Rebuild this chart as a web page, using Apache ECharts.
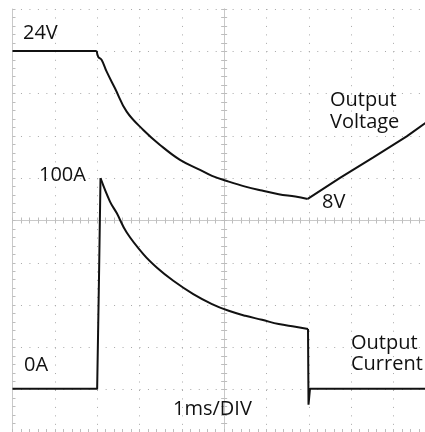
<!DOCTYPE html>
<html>
<head>
<meta charset="utf-8">
<script src="https://cdn.jsdelivr.net/npm/echarts@6/dist/echarts.min.js"></script>
<style>
  html, body { margin: 0; padding: 0; background: #ffffff; }
  #chart { width: 425px; height: 432px; }
</style>
</head>
<body>
<div id="chart"></div>
<script>
// Time (ms, 1 ms per division) and voltage (V) of the output voltage trace
const voltageTime = [0, 1.989, 2.027, 2.107, 2.225, 2.421, 2.698, 3.090, 3.485, 3.957, 4.430, 4.713,
  5.108, 5.500, 5.894, 6.289, 6.681, 6.974, 7.737, 8.524, 9.313, 9.745, 9.8];
const voltageValues = [24, 24, 23.35, 23.03, 21.76, 19.97, 17.44, 15.46, 13.84, 12.22, 11.14, 10.49,
  9.87, 9.33, 8.90, 8.51, 8.25, 8.0, 10.27, 12.49, 14.76, 16.19, 16.4];

// Time (ms) and current (A) of the output current trace
const currentTime = [0, 2.0, 2.013, 2.043, 2.079, 2.303, 2.462, 2.698, 3.090, 3.407, 3.799, 4.271,
  4.713, 5.108, 5.500, 5.894, 6.289, 6.681, 6.981, 6.993, 7.028, 9.8];
const currentValues = [0.5, 0.5, 0.5, 52.4, 100, 88.95, 83.5, 74.3, 64.1, 57.8, 51.5, 45.2,
  40.5, 37.3, 34.95, 33.06, 31.03, 29.75, 28.67, -7.1, 0.5, 0.5];

// Annotation texts
const labelTexts = ['24V', '100A', '0A', '8V', 'Output', 'Voltage', 'Output', 'Current', '1ms/DIV'];

const voltagePairs = voltageTime.map((t, i) => [t, voltageValues[i]]);
const currentPairs = currentTime.map((t, i) => [t, currentValues[i]]);
// split voltage trace at its corners so smoothing does not round them
const vFlat = voltagePairs.slice(0, 2);
const vDecay = voltagePairs.slice(1, 18);
const vRamp = voltagePairs.slice(17);
// split current trace: edges straight, decay smooth
const iRise = currentPairs.slice(0, 5);
const iDecay = currentPairs.slice(4, 19);
const iFall = currentPairs.slice(18);

const FONT = '20px "Open Sans", "Noto Sans", sans-serif';
const borderColor = '#c9c9c9';
const tickColor = '#bdbdbd';
const dotColor = '#a8a8a8';
const traceStyle = { color: '#111111', width: 2 };

function frameAxis(extra) {
  return Object.assign({
    type: 'value', min: 0, max: 10, interval: 1,
    axisLabel: { show: false },
    axisLine: { show: true, lineStyle: { color: borderColor, width: 1 } },
    axisTick: { show: true, inside: true, length: 3, lineStyle: { color: tickColor } },
    minorTick: { show: true, splitNumber: 5, length: 3, lineStyle: { color: tickColor } },
    splitLine: { show: false },
    minorSplitLine: { show: false }
  }, extra);
}

const dotted = { show: true, lineStyle: { color: dotColor, width: 1, type: [1, 7.466] } };

const chart = echarts.init(document.getElementById('chart'), null, { renderer: 'canvas' });

const textEls = [
  { text: labelTexts[0], x: 23, y: 33.7 },
  { text: labelTexts[1], x: 39, y: 175 },
  { text: labelTexts[2], x: 24, y: 365.3 },
  { text: labelTexts[3], x: 322, y: 202.5 },
  { text: labelTexts[4], x: 330, y: 100.5 },
  { text: labelTexts[5], x: 330, y: 122.5 },
  { text: labelTexts[6], x: 351, y: 343.5 },
  { text: labelTexts[7], x: 351, y: 364 },
  { text: labelTexts[8], x: 173, y: 409 }
].map(o => ({
  type: 'text', z: 100,
  style: { text: o.text, x: o.x, y: o.y, font: FONT, fill: '#111111', textAlign: 'left', textVerticalAlign: 'middle' }
}));

function trace(name, data, yIdx, smooth) {
  return {
    name: name, type: 'line', xAxisIndex: 0, yAxisIndex: yIdx,
    data: data, showSymbol: false, smooth: smooth,
    lineStyle: traceStyle, z: 10
  };
}

chart.setOption({
  backgroundColor: '#ffffff',
  animation: false,
  grid: { left: 12.5, top: 9, width: 423.3, height: 423, containLabel: false, outerBoundsMode: 'none' },
  xAxis: [
    frameAxis({ position: 'bottom', splitLine: dotted }),
    frameAxis({ position: 'top' }),
    frameAxis({ position: 'top', offset: -211.5 }),
    frameAxis({ position: 'top', offset: -211.5, axisTick: { show: true, inside: false, length: 3, lineStyle: { color: tickColor } } })
  ],
  yAxis: [
    frameAxis({ position: 'left', splitLine: dotted }),
    frameAxis({ position: 'left', offset: -211.65 }),
    frameAxis({ position: 'left', offset: -211.65, axisTick: { show: true, inside: false, length: 3, lineStyle: { color: tickColor } } }),
    { type: 'value', show: false, min: -17.21, max: 28.54 },
    { type: 'value', show: false, min: -20, max: 180 }
  ],
  series: [
    trace('Output Voltage', vFlat, 3, false),
    trace('Output Voltage', vDecay, 3, 0.4),
    trace('Output Voltage', vRamp, 3, false),
    trace('Output Current', iRise, 4, false),
    trace('Output Current', iDecay, 4, 0.4),
    trace('Output Current', iFall, 4, false)
  ],
  graphic: textEls
});
</script>
</body>
</html>
